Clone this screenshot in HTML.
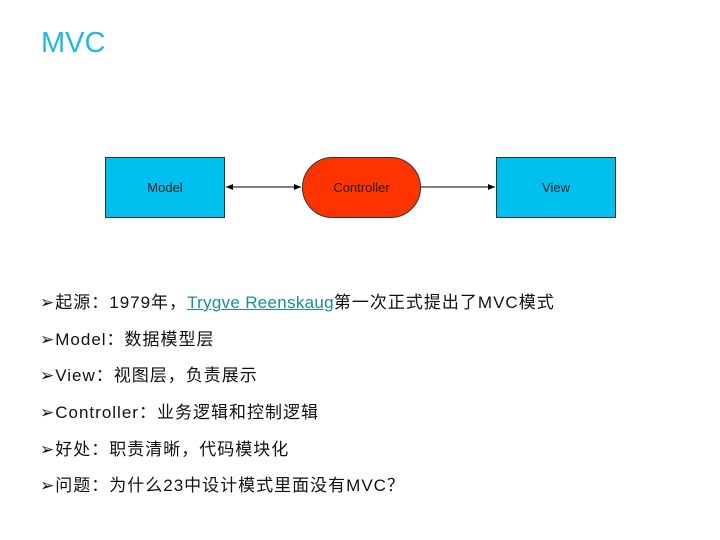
<!DOCTYPE html>
<html><head><meta charset="utf-8"><style>
body{margin:0;width:720px;height:540px;background:#fff;position:relative;overflow:hidden;font-family:"Liberation Sans","Noto Sans CJK SC",sans-serif;}
.t{position:absolute;left:41px;top:27px;font-size:29px;color:#1fb8e8;}
.box{position:absolute;top:157px;height:61px;display:flex;align-items:center;justify-content:center;font-size:13px;color:#222;box-sizing:border-box;border:1px solid #333;}
.b{position:absolute;left:40px;font-size:17px;color:#111;white-space:nowrap;letter-spacing:1px;}
.b a{color:#1a8f8f;text-decoration:underline;letter-spacing:0.3px;}
</style></head><body>
<div class="t">MVC</div>
<div class="box" style="left:105px;width:120px;background:#00c0f0">Model</div>
<div class="box" style="left:302px;width:119px;background:#ff3300;border-radius:31px">Controller</div>
<div class="box" style="left:496px;width:120px;background:#00c0f0">View</div>
<svg style="position:absolute;left:0;top:0" width="720" height="540">
<line x1="226" y1="187" x2="301" y2="187" stroke="#000" stroke-width="1"/>
<polygon points="226,187 233,184 233,190" fill="#000"/>
<polygon points="301,187 294,184 294,190" fill="#000"/>
<line x1="421" y1="187" x2="495" y2="187" stroke="#000" stroke-width="1"/>
<polygon points="495,187 488,184 488,190" fill="#000"/>
</svg>
<div class="b" style="top:288px">➢起源：1979年，<a>Trygve Reenskaug</a>第一次正式提出了MVC模式</div>
<div class="b" style="top:325px">➢Model：数据模型层</div>
<div class="b" style="top:361px">➢View：视图层，负责展示</div>
<div class="b" style="top:398px">➢Controller：业务逻辑和控制逻辑</div>
<div class="b" style="top:435px">➢好处：职责清晰，代码模块化</div>
<div class="b" style="top:471px">➢问题：为什么23中设计模式里面没有MVC？</div>
</body></html>
